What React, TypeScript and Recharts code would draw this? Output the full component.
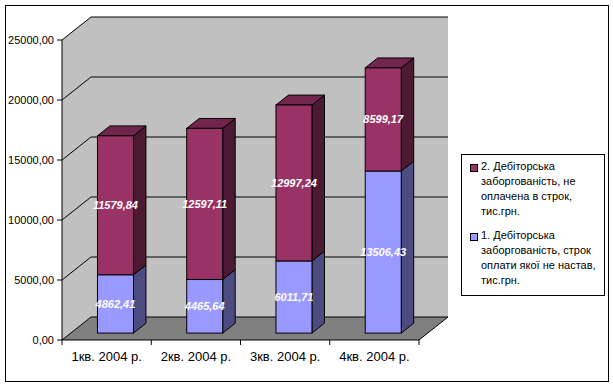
import React from 'react';
import { BarChart, Bar, XAxis, YAxis, CartesianGrid, LabelList } from 'recharts';

const quarters = ['1кв. 2004 р.', '2кв. 2004 р.', '3кв. 2004 р.', '4кв. 2004 р.'];
const notDue = [4862.41, 4465.64, 6011.71, 13506.43];
const overdue = [11579.84, 12597.11, 12997.24, 8599.17];
const yTicks = [0, 5000, 10000, 15000, 20000, 25000];
const overdueName = ['2. Дебіторська', 'заборгованість, не', 'оплачена в строк,', 'тис.грн.'];
const notDueName = ['1. Дебіторська', 'заборгованість, строк', 'оплати якої не настав,', 'тис.грн.'];

const data = quarters.map((q, i) => ({ quarter: q, notDue: notDue[i], overdue: overdue[i] }));

const FONT = '"Liberation Sans", Arial, sans-serif';
const DX = 29;
const DY = 23;
const FRONT = 0.3;
const BACK = 0.73;

const fmt = (v: number) => Number(v).toFixed(2).replace('.', ',');

const makeShape = (front: string, side: string, top: string, drawTop: boolean) => (props: any) => {
  const { x, y, width, height } = props;
  if (x == null || width == null || height == null) return <g />;
  const fx = x + DX * FRONT;
  const fy = y - DY * FRONT;
  const ddx = DX * (BACK - FRONT);
  const ddy = DY * (BACK - FRONT);
  const w = width;
  const h = height;
  return (
    <g>
      <path
        d={`M${fx + w},${fy} L${fx + w + ddx},${fy - ddy} L${fx + w + ddx},${fy + h - ddy} L${fx + w},${fy + h} Z`}
        fill={side}
        stroke="#000"
        strokeWidth={1}
      />
      {drawTop && (
        <path
          d={`M${fx},${fy} L${fx + ddx},${fy - ddy} L${fx + w + ddx},${fy - ddy} L${fx + w},${fy} Z`}
          fill={top}
          stroke="#000"
          strokeWidth={1}
        />
      )}
      <rect x={fx} y={fy} width={w} height={h} fill={front} stroke="#000" strokeWidth={1} />
    </g>
  );
};

const renderLabel = (props: any) => {
  const vb = props.viewBox || props;
  const x = props.x ?? vb.x;
  const y = props.y ?? vb.y;
  const width = props.width ?? vb.width;
  const height = props.height ?? vb.height;
  return (
    <text
      x={x + width / 2 + DX * FRONT}
      y={y + height / 2 - DY * FRONT}
      dy={4}
      textAnchor="middle"
      fill="#fff"
      fontSize={11}
      fontWeight="bold"
      fontStyle="italic"
      fontFamily={FONT}
    >
      {fmt(props.value)}
    </text>
  );
};

// Grid line renderer: the first (bottom) line also paints the walls and floor behind everything.
const gridLine = (p: any) => {
  const { x1, y1, x2 } = p;
  const gx = p.x;
  const gy = p.y;
  const gw = p.width;
  const gh = p.height;
  const b = gy + gh;
  const isFirst = p.index === 0;
  return (
    <g key={`g-${p.index}`}>
      {isFirst && typeof gy === 'number' && (
        <g>
          <rect x={gx + DX} y={gy - DY} width={gw} height={gh} fill="#C0C0C0" />
          <path d={`M${gx},${gy} L${gx + DX},${gy - DY} L${gx + DX},${b - DY} L${gx},${b} Z`} fill="#C0C0C0" />
          <path
            d={`M${gx},${b} L${gx + DX},${b - DY} L${gx + gw + DX},${b - DY} L${gx + gw},${b} Z`}
            fill="#808080"
          />
          <path d={`M${gx + gw},${b} L${gx + gw + DX},${b - DY}`} stroke="#000" strokeWidth={1} />
        </g>
      )}
      <path
        d={`M${x1},${y1} L${x1 + DX},${y1 - DY} L${x2 + DX},${y1 - DY}`}
        stroke="#000"
        strokeWidth={1}
        fill="none"
      />
    </g>
  );
};

const XTick = (props: any) => {
  const { x, y, payload } = props;
  const off = payload && typeof payload.offset === 'number' && payload.offset > 0 ? payload.offset : 44.6;
  const axisY = y - 5;
  const isLast = payload && payload.value === quarters[quarters.length - 1];
  return (
    <g>
      <line x1={x - off} y1={axisY} x2={x - off} y2={axisY + 5} stroke="#000" />
      {isLast && <line x1={x + off} y1={axisY} x2={x + off} y2={axisY + 5} stroke="#000" />}
      <text x={x} y={axisY + 21} textAnchor="middle" fill="#000" fontSize={13} fontFamily={FONT}>
        {payload.value}
      </text>
    </g>
  );
};

const LegendItem = ({ color, lines, top }: { color: string; lines: string[]; top: number }) => (
  <div style={{ position: 'absolute', left: 8, top, display: 'flex' }}>
    <div
      style={{
        width: 8,
        height: 8,
        boxSizing: 'border-box',
        background: color,
        border: '1px solid #000',
        marginTop: 5,
        marginRight: 3,
        flex: 'none',
      }}
    />
    <div style={{ fontSize: 11, lineHeight: '15px', fontFamily: FONT, color: '#000', whiteSpace: 'nowrap' }}>
      {lines.map((l, i) => (
        <div key={i}>{l}</div>
      ))}
    </div>
  </div>
);

export default function App() {
  return (
    <div style={{ position: 'absolute', left: 0, top: 0, width: 613, height: 385 }}>
      <div style={{ position: 'absolute', left: 0, top: 0 }}>
        <BarChart
          width={613}
          height={385}
          data={data}
          margin={{ top: 40, right: 194, bottom: 15, left: 0 }}
          barCategoryGap="30%"
        >
          <CartesianGrid vertical={false} horizontal={gridLine} />
          <YAxis
            domain={[0, 25000]}
            ticks={yTicks}
            width={62}
            tickFormatter={fmt}
            tickSize={5}
            tickMargin={3}
            axisLine={{ stroke: '#000' }}
            tickLine={{ stroke: '#000' }}
            tick={{ fill: '#000', fontSize: 11, fontFamily: FONT }}
            interval={0}
          />
          <XAxis
            dataKey="quarter"
            height={30}
            tickSize={5}
            tickMargin={0}
            tickLine={false}
            axisLine={{ stroke: '#000' }}
            tick={<XTick />}
            interval={0}
          />
          <Bar
            dataKey="notDue"
            stackId="a"
            fill="#9999FF"
            isAnimationActive={false}
            shape={makeShape('#9999FF', '#4C4C80', '#73739F', false)}
          >
            <LabelList dataKey="notDue" content={renderLabel} />
          </Bar>
          <Bar
            dataKey="overdue"
            stackId="a"
            fill="#993366"
            isAnimationActive={false}
            shape={makeShape('#993366', '#4C1A33', '#73264D', true)}
          >
            <LabelList dataKey="overdue" content={renderLabel} />
          </Bar>
        </BarChart>
      </div>
      <div
        style={{
          position: 'absolute',
          left: 5,
          top: 5,
          width: 604,
          height: 377,
          boxSizing: 'border-box',
          border: '1px solid #000',
          pointerEvents: 'none',
        }}
      />
      <div
        style={{
          position: 'absolute',
          left: 461,
          top: 154,
          width: 144,
          height: 142,
          boxSizing: 'border-box',
          border: '1px solid #000',
          background: '#fff',
        }}
      >
        <LegendItem color="#993366" lines={overdueName} top={4} />
        <LegendItem color="#9999FF" lines={notDueName} top={73} />
      </div>
    </div>
  );
}
